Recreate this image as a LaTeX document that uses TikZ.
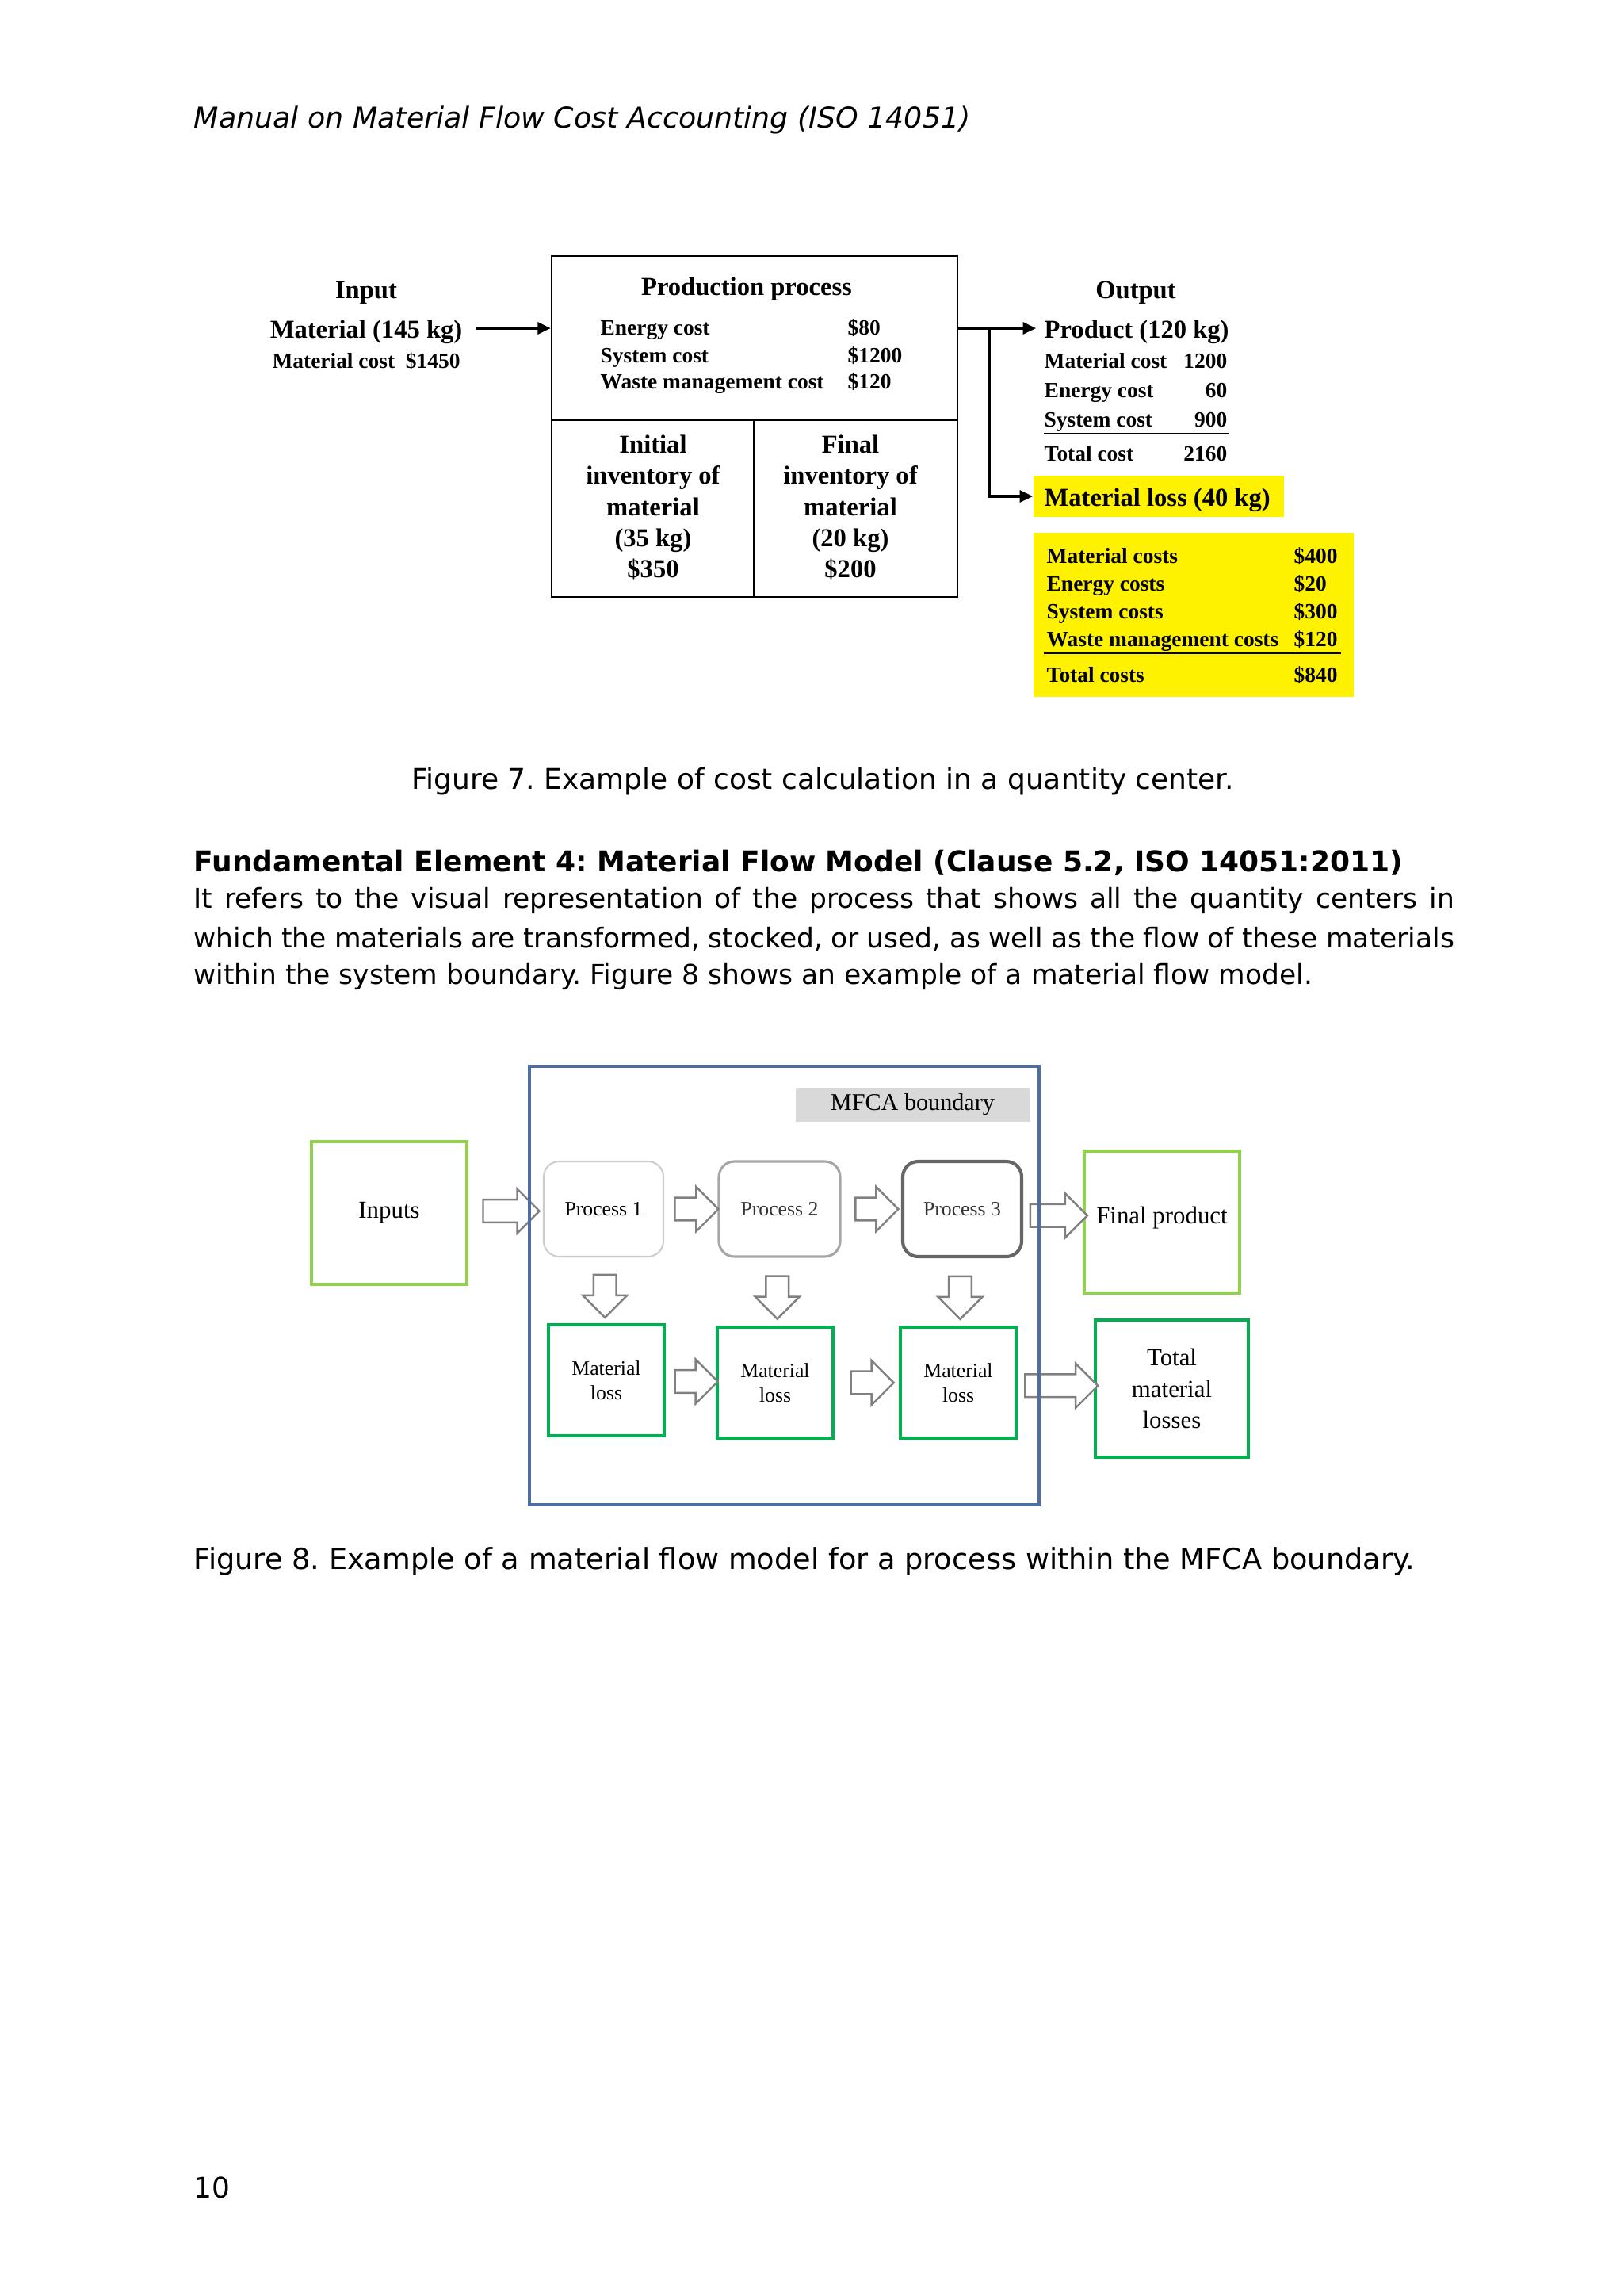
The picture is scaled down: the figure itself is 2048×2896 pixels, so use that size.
\documentclass[tikz,border=0pt]{standalone}
\usepackage{fontspec}
\setmainfont{DejaVu Sans}
\newfontfamily\figserif{Liberation Serif}
\usetikzlibrary{positioning, arrows.meta, shapes.arrows, fit, calc}
\frenchspacing

\newcommand{\pxu}{0.1025mm}
\definecolor{mfcablue}{RGB}{79,110,160}
\definecolor{lightgreen}{RGB}{146,208,80}
\definecolor{lossgreen}{RGB}{0,176,80}
\definecolor{hiyellow}{RGB}{255,242,0}
\definecolor{labelgray}{RGB}{217,217,217}

\begin{document}
\begin{tikzpicture}[
  x=\pxu, y=-\pxu,
  >=Latex,
  pagetext/.style={anchor=west, inner sep=0, font=\fontsize{10.5}{14}\selectfont},
  cell/.style={draw, line width=0.6pt, inner sep=0},
  bigtxt/.style={inner sep=0, text height=0.7em, text depth=0pt, font=\figserif\bfseries\fontsize{9.5}{11.4}\selectfont},
  smalltxt/.style={inner sep=0, text height=0.7em, text depth=0pt, font=\figserif\bfseries\fontsize{8}{9.6}\selectfont},
  stack/.style={inner sep=0, align=center, font=\figserif\bfseries\fontsize{9.5}{11.4}\selectfont},
  line/.style={-{Triangle[length=1.7mm, width=1.5mm]}, line width=1.1pt},
  rule/.style={line width=0.6pt},
  yellowbox/.style={fill=hiyellow, inner sep=0},
  procbox/.style={rounded corners=2mm, line width=0.6pt, inner sep=0},
  lossbx/.style={draw=lossgreen, line width=1pt, inner sep=0},
  endbox/.style={line width=1pt, inner sep=0},
  boxtxt/.style={inner sep=0, align=center, font=\figserif\fontsize{9}{11.6}\selectfont},
  proctxt/.style={inner sep=0, align=center, font=\figserif\fontsize{7.5}{9}\selectfont},
  hollow/.style={single arrow, draw=gray, fill=white, line width=0.7pt, inner sep=0, text height=2.7mm, text depth=0pt, single arrow head extend=1.4mm}
]

\fill[white] (0,0) rectangle (2048,2896);
\useasboundingbox (0,0) rectangle (2048,2896);

% Page header
\node[pagetext, font=\fontsize{10.6}{14}\selectfont\itshape] (header) at (244,151) {Manual on Material Flow Cost Accounting (ISO 14051)};

% Figure 7: input side
\node[bigtxt] (inhead) at (462,364) {Input};
\node[bigtxt] (inmat) at (462,414) {Material (145 kg)};
\node[smalltxt] (incost) at (462,452) {Material cost\enspace\$1450};

% Figure 7: production process box
\node[cell, fit={(696,323) (1208,530)}] (prodtop) {};
\node[cell, fit={(696,530) (951,753)}] (initinv) {};
\node[cell, fit={(951,530) (1208,753)}] (finalinv) {};

\node[bigtxt] (prodhead) at (942,360) {Production process};
\node[smalltxt, anchor=west] (energy) at (757,410) {Energy cost};
\node[smalltxt, anchor=west] (system) at (757,445) {System cost};
\node[smalltxt, anchor=west] (waste) at (757,478) {Waste management cost};
\node[smalltxt, anchor=west] (energyval) at (1069,410) {\$80};
\node[smalltxt, anchor=west] (systemval) at (1069,445) {\$1200};
\node[smalltxt, anchor=west] (wasteval) at (1069,478) {\$120};

\node[stack] (inittxt) at (824,640) {Initial\\inventory of\\material\\(35 kg)\\\$350};
\node[stack] (finaltxt) at (1073,640) {Final\\inventory of\\material\\(20 kg)\\\$200};

% Figure 7: output side
\node[bigtxt] (outhead) at (1433,364) {Output};
\node[bigtxt, anchor=west] (product) at (1317,414) {Product (120 kg)};
\node[smalltxt, anchor=west] (pmat) at (1317,452) {Material cost};
\node[smalltxt, anchor=east] (pmatval) at (1549,452) {1200};
\node[smalltxt, anchor=west] (penergy) at (1317,489) {Energy cost};
\node[smalltxt, anchor=east] (penergyval) at (1549,489) {60};
\node[smalltxt, anchor=west] (psys) at (1317,526) {System cost};
\node[smalltxt, anchor=east] (psysval) at (1549,526) {900};
\draw[rule] (1317,547) -- (1551,547);
\node[smalltxt, anchor=west] (ptotal) at (1317,569) {Total cost};
\node[smalltxt, anchor=east] (ptotalval) at (1549,569) {2160};

\node[yellowbox, fit={(1304,600) (1620,652)}] (lossbg) {};
\node[bigtxt, anchor=west] (loss) at (1317,626) {Material loss (40 kg)};

\node[yellowbox, fit={(1304,672) (1708,879)}] (costbg) {};
\node[smalltxt, anchor=west] (lmat) at (1320,698) {Material costs};
\node[smalltxt, anchor=west] (lmatval) at (1632,698) {\$400};
\node[smalltxt, anchor=west] (lenergy) at (1320,733) {Energy costs};
\node[smalltxt, anchor=west] (lenergyval) at (1632,733) {\$20};
\node[smalltxt, anchor=west] (lsys) at (1320,768) {System costs};
\node[smalltxt, anchor=west] (lsysval) at (1632,768) {\$300};
\node[smalltxt, anchor=west] (lwaste) at (1320,803) {Waste management costs};
\node[smalltxt, anchor=west] (lwasteval) at (1632,803) {\$120};
\draw[rule] (1317,824) -- (1692,824);
\node[smalltxt, anchor=west] (ltotal) at (1320,848) {Total costs};
\node[smalltxt, anchor=west] (ltotalval) at (1632,848) {\$840};

% Figure 7: arrows
\draw[line, line width=1.3pt, shorten <=1.6mm] (inmat.east) -- (inmat.east -| prodtop.west);
\coordinate (split) at (1248,414);
\draw[line, shorten >=1mm] (prodtop.east |- product.west) -- (product.west);
\draw[line] (split) |- (lossbg.west);

% Caption and text
\node[pagetext, anchor=center] (cap7) at (1038,986) {Figure 7. Example of cost calculation in a quantity center.};
\node[pagetext, font=\fontsize{10.5}{14}\selectfont\bfseries] (heading) at (244,1088) {Fundamental Element 4: Material Flow Model (Clause 5.2, ISO 14051:2011)};
\node[pagetext, font=\fontsize{10.05}{14}\selectfont] (para1) at (244,1136) {\makebox[163mm][s]{It refers to the visual representation of the process that shows all the quantity centers in}};
\node[pagetext, font=\fontsize{10.05}{14}\selectfont] (para2) at (244,1184) {\makebox[163mm][s]{which the materials are transformed, stocked, or used, as well as the flow of these materials}};
\node[pagetext, font=\fontsize{10.05}{14}\selectfont] (para3) at (244,1232) {within the system boundary. Figure 8 shows an example of a material flow model.};

% Figure 8: boxes
\node[endbox, draw=lightgreen, fit={(393,1440) (589,1620)}] (inputs) {};
\node[procbox, draw=gray!40, fit={(686,1465) (837,1585)}] (p1) {};
\node[procbox, draw=gray!70, line width=0.9pt, fit={(907,1465) (1060,1585)}] (p2) {};
\node[procbox, draw=gray!80!black, line width=1.2pt, fit={(1139,1465) (1289,1585)}] (p3) {};
\node[lossbx, fit={(692,1671) (838,1811)}] (l1) {};
\node[lossbx, fit={(905,1674) (1051,1814)}] (l2) {};
\node[lossbx, fit={(1136,1674) (1282,1814)}] (l3) {};
\node[endbox, draw=lightgreen, fit={(1368,1452) (1564,1631)}] (final) {};
\node[endbox, draw=lossgreen, fit={(1382,1665) (1575,1838)}] (totloss) {};

\node[boxtxt] at (inputs) {Inputs};
\node[proctxt] at (p1) {Process 1};
\node[proctxt, text=black!80] at (p2) {Process 2};
\node[proctxt, text=black!80] at (p3) {Process 3};
\node[proctxt] at (l1) {Material\\loss};
\node[proctxt] at (l2) {Material\\loss};
\node[proctxt] at (l3) {Material\\loss};
\node[boxtxt] at ([yshift=0.6mm]final.center) {Final product};
\node[boxtxt] at (totloss) {Total\\material\\losses};

% Figure 8: hollow arrows
\node[hollow, minimum height=71*\pxu] (a0) at ($(inputs.east)!0.5!(p1.west)$) {};
\node[hollow, minimum height=55*\pxu] (a1) at ($(p1.east)!0.5!(p2.west)$) {};
\node[hollow, minimum height=54*\pxu] (a2) at ($(p2.east)!0.5!(p3.west)$) {};
\node[hollow, minimum height=72*\pxu] (a3) at ($(p3.east)!0.5!(final.west)$) {};
\node[hollow, rotate=-90, minimum height=54*\pxu] (d1) at ($(p1.south)!0.5!(l1.north)$) {};
\node[hollow, rotate=-90, minimum height=54*\pxu] (d2) at ($(p2.south)!0.5!(l2.north)$) {};
\node[hollow, rotate=-90, minimum height=54*\pxu] (d3) at ($(p3.south)!0.5!(l3.north)$) {};
\node[hollow, minimum height=54*\pxu] (b1) at ($(l1.east)!0.5!(l2.west)$) {};
\node[hollow, minimum height=54*\pxu] (b2) at ($(l2.east)!0.5!(l3.west)$) {};
\node[hollow, minimum height=92*\pxu] (b3) at ($(l3.east)!0.5!(totloss.west)$) {};

% Figure 8: MFCA boundary
\node[draw=mfcablue, line width=1.3pt, inner sep=0, fit={(668,1345) (1311,1898)}] (boundary) {};
\node[fill=labelgray, inner sep=0, fit={(1004,1372) (1299,1415)}] (mfcalabel) {};
\node[boxtxt, font=\figserif\fontsize{8.8}{10}\selectfont] at (mfcalabel) {MFCA boundary};

% Caption and page number
\node[pagetext, font=\fontsize{10.7}{14}\selectfont] (cap8) at (244,1969) {Figure 8. Example of a material flow model for a process within the MFCA boundary.};
\node[pagetext] (pagenum) at (244,2759) {10};

\end{tikzpicture}
\end{document}
